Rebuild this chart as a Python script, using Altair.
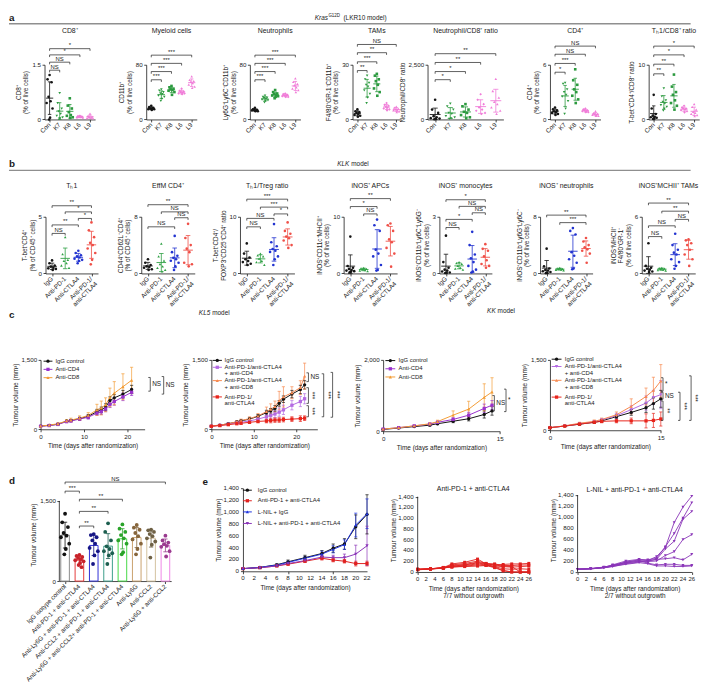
import altair as alt
import numpy as np
import pandas as pd

FONT = "Liberation Sans"
INK = "#1a1a1a"

# ============================ DATA ============================
# ---- a : Kras G12D (LKR10 model) ----
A_GROUPS = ["Con", "K7", "K8", "L6", "L9"]
A_COLORS = ["#151515", "#2c9a3f", "#2c9a3f", "#f07cd8", "#f07cd8"]
A_SHAPES = ["circle", "triangle-down", "square", "diamond", "triangle-up"]

A_CD8 = {"Con": [1.22, 1.1, 1.02, 0.62, 0.5, 0.45, 0.3, 0.05, 0.0],
         "K7": [0.72, 0.45, 0.3, 0.22, 0.15, 0.1, 0.06, 0.03, 0.02],
         "K8": [0.58, 0.38, 0.3, 0.2, 0.12, 0.1, 0.06, 0.04],
         "L6": [0.1, 0.09, 0.08, 0.07, 0.06, 0.05, 0.04],
         "L9": [0.16, 0.1, 0.08, 0.07, 0.05, 0.04, 0.03]}
A_MYELOID = {"Con": [20, 18, 17, 16, 16, 15, 15, 14],
             "K7": [44, 42, 40, 38, 37, 35, 33, 30, 27],
             "K8": [49, 47, 45, 44, 43, 42, 40, 36],
             "L6": [45, 42, 41, 40, 39, 38, 38, 37],
             "L9": [63, 58, 56, 55, 53, 51, 48, 46]}
A_NEUTRO = {"Con": [17, 15, 14, 14, 13, 13, 12, 12],
            "K7": [35, 33, 32, 31, 30, 29, 28, 27, 25],
            "K8": [43, 40, 38, 37, 36, 35, 34, 33, 31],
            "L6": [38, 37, 36, 35, 35, 34, 33, 33],
            "L9": [60, 55, 52, 50, 47, 45, 43, 40]}
A_TAM = {"Con": [5.5, 4.5, 4, 3.5, 3, 2.5, 2, 1.5],
         "K7": [24, 22, 20, 19, 18, 16, 14, 12, 9],
         "K8": [25, 24, 22, 21, 19, 17, 15, 13],
         "L6": [9, 8, 7.5, 7, 6.5, 6, 5.5, 5],
         "L9": [7, 6.5, 6, 5.5, 5, 5, 4.5, 4]}
A_RATIO = {"Con": [900, 450, 300, 150, 100, 60, 40, 20, 10],
           "K7": [720, 600, 450, 300, 250, 150, 100, 50, 30],
           "K8": [700, 600, 450, 350, 300, 200, 100, 50],
           "L6": [1150, 900, 700, 550, 450, 400, 300, 250],
           "L9": [1850, 1300, 1000, 800, 700, 550, 400, 250]}
A_CD4 = {"Con": [1.3, 1.1, 1.0, 0.9, 0.8, 0.7, 0.6, 0.5],
         "K7": [4.0, 3.9, 3.3, 3.0, 2.7, 2.5, 2.0, 1.2, 0.6],
         "K8": [5.5, 4.3, 3.8, 3.3, 3.0, 2.6, 2.2, 1.8],
         "L6": [1.2, 1.1, 1.0, 1.0, 0.9, 0.9, 0.8, 0.8],
         "L9": [0.9, 0.7, 0.6, 0.6, 0.5, 0.5, 0.4, 0.4]}
A_TH1CD8 = {"Con": [4.5, 2.0, 1.0, 0.7, 0.5, 0.4, 0.3, 0.2, 0.1],
            "K7": [5.7, 4.2, 3.5, 3.2, 2.9, 2.6, 2.3, 2.0, 1.6],
            "K8": [8.2, 6.0, 5.0, 4.5, 3.5, 3.0, 2.5, 1.8],
            "L6": [2.5, 2.2, 2.0, 2.0, 1.8, 1.7, 1.5, 1.3],
            "L9": [2.8, 2.3, 1.8, 1.4, 1.2, 1.0, 0.8, 0.6]}

A_SPECS = [
    dict(title="CD8⁺", ytitle=["CD8⁺", "(% of live cells)"], values=A_CD8, ymax=1.5,
         ticks=[0, 0.5, 1.0, 1.5], fmt="dec1",
         br=[(0, 1, "NS", 1.35), (0, 2, "NS", 1.57), (0, 3, "*", 1.77), (0, 4, "*", 1.94)]),
    dict(title="Myeloid cells", ytitle=["CD11b⁺", "(% of live cells)"], values=A_MYELOID, ymax=80,
         ticks=[0, 20, 40, 60, 80], fmt="int",
         br=[(0, 1, "***", 58), (0, 2, "***", 70), (0, 3, "***", 82), (0, 4, "***", 94)]),
    dict(title="Neutrophils", ytitle=["Ly6G⁺Ly6C⁻CD11b⁺", "(% of live cells)"], values=A_NEUTRO, ymax=80,
         ticks=[0, 20, 40, 60, 80], fmt="int",
         br=[(0, 1, "***", 58), (0, 2, "***", 70), (0, 3, "***", 82), (0, 4, "***", 94)]),
    dict(title="TAMs", ytitle=["F4/80⁺GR-1⁻CD11b⁺", "(% of live cells)"], values=A_TAM, ymax=30,
         ticks=[0, 10, 20, 30], fmt="int",
         br=[(0, 1, "**", 26.8), (0, 2, "***", 31.6), (0, 3, "**", 36.6), (0, 4, "NS", 41.1)]),
    dict(title="Neutrophil/CD8⁺ ratio", ytitle="Neutrophil/CD8⁺ ratio", values=A_RATIO, ymax=2500,
         ticks=[0, 500, 1000, 1500, 2000, 2500], fmt="int",
         br=[(0, 1, "*", 1817), (0, 2, "*", 2188), (0, 3, "**", 2603), (0, 4, "**", 3004)]),
    dict(title="CD4⁺", ytitle=["CD4⁺", "(% of live cells)"], values=A_CD4, ymax=6,
         ticks=[0, 2, 4, 6], fmt="int",
         br=[(0, 1, "*", 5.18), (0, 2, "***", 6.14), (0, 3, "NS", 7.15), (0, 4, "NS", 8.04)]),
    dict(title="Tₕ1/CD8⁺ ratio", ytitle="T-bet⁺CD4⁺/CD8⁺ ratio", values=A_TH1CD8, ymax=10,
         ticks=[0, 5, 10], fmt="int",
         br=[(0, 1, "**", 8.34), (0, 2, "**", 10.1), (0, 3, "*", 11.8), (0, 4, "*", 13.4)]),
]

# ---- b : KLK model ----
B_GROUPS = ["IgG", "Anti-PD-1", "Anti-CTLA4", "Anti-PD-1/|anti-CTLA4"]
B_COLORS = ["#151515", "#2ea043", "#2233d0", "#ef5048"]
B_SHAPES = ["circle", "triangle-up", "circle", "circle"]
B_KEYS = ["IgG", "PD1", "CTLA4", "Combo"]

B_TH1 = {"IgG": [1.15, 0.9, 0.7, 0.6, 0.5, 0.45, 0.4, 0.3],
         "PD1": [3.2, 1.7, 1.2, 1.1, 0.9, 0.7, 0.5],
         "CTLA4": [2.0, 1.8, 1.6, 1.5, 1.4, 1.3, 1.2, 1.1, 0.9],
         "Combo": [4.5, 3.8, 3.2, 2.7, 2.5, 2.2, 1.8, 1.2, 0.8]}
B_EFFM = {"IgG": [2.0, 1.5, 1.2, 1.0, 0.9, 0.8, 0.6, 0.5],
          "PD1": [4.2, 2.4, 1.8, 1.3, 1.0, 0.8, 0.5, 0.3],
          "CTLA4": [5.3, 3.0, 2.5, 2.2, 2.0, 1.8, 1.5, 1.0, 0.5],
          "Combo": [7.0, 5.0, 4.0, 3.5, 3.0, 1.5, 1.3, 1.0]}
B_TREG = {"IgG": [5.3, 3.5, 2.8, 2.5, 2.2, 2.0, 1.7, 1.5],
          "PD1": [3.5, 3.2, 3.0, 2.6, 2.2, 2.0, 1.5],
          "CTLA4": [8.7, 5.5, 4.8, 4.3, 4.0, 3.8, 3.0, 2.5, 1.5],
          "Combo": [9.0, 7.5, 7.0, 6.5, 6.2, 5.8, 5.0, 4.5]}
B_APC = {"IgG": [6.5, 1.3, 1.0, 0.8, 0.6, 0.5, 0.4, 0.3, 0.2],
         "PD1": [1.0, 0.9, 0.8, 0.7, 0.6, 0.5, 0.4],
         "CTLA4": [9.5, 8.5, 7.5, 4.2, 3.5, 3.0, 1.5, 0.6, 0.5],
         "Combo": [8.8, 8.5, 7.5, 6.0, 5.5, 4.5, 3.5, 1.2]}
B_MONO = {"IgG": [2.0, 0.6, 0.3, 0.2, 0.15, 0.1, 0.05, 0.05, 0.02],
          "PD1": [0.6, 0.55, 0.5, 0.4, 0.3, 0.25, 0.2],
          "CTLA4": [2.2, 1.5, 1.0, 0.8, 0.6, 0.4, 0.2, 0.1, 0.05],
          "Combo": [1.55, 1.3, 1.2, 0.9, 0.7, 0.5, 0.4, 0.3]}
B_NEUT = {"IgG": [3.5, 1.0, 0.7, 0.5, 0.4, 0.3, 0.2, 0.1, 0.05],
          "PD1": [0.8, 0.7, 0.65, 0.6, 0.55, 0.5, 0.45],
          "CTLA4": [6.4, 6.0, 5.5, 3.0, 2.5, 2.0, 1.5, 0.7, 0.6],
          "Combo": [5.0, 4.5, 4.0, 3.7, 3.4, 3.2, 2.8, 1.5]}
B_TAM = {"IgG": [3.2, 0.8, 0.6, 0.5, 0.4, 0.3, 0.2, 0.15],
         "PD1": [0.6, 0.55, 0.5, 0.45, 0.4, 0.35, 0.3],
         "CTLA4": [4.2, 3.0, 2.5, 2.2, 2.0, 1.5, 1.2, 0.8, 0.5],
         "Combo": [3.6, 3.5, 3.2, 3.0, 2.5, 2.0, 1.5, 0.8]}

B_SPECS = [
    dict(title="Tₕ1", ytitle=["T-bet⁺CD4⁺", "(% of CD45⁺ cells)"], values=B_TH1, ymax=5,
         ticks=[0, 1, 2, 3, 4, 5], fmt="int",
         br=[(0, 1, "NS", 3.53), (0, 2, "**", 4.28), (2, 3, "*", 4.85), (1, 3, "*", 5.43), (0, 3, "**", 5.97)]),
    dict(title="EffM CD4⁺", ytitle=["CD44⁺CD62L⁻CD4⁺", "(% of CD45⁺ cells)"], values=B_EFFM, ymax=8,
         ticks=[0, 2, 4, 6, 8], fmt="int",
         br=[(0, 2, "NS", 6.58), (2, 3, "NS", 7.86), (1, 3, "NS", 8.69), (0, 3, "**", 9.70)]),
    dict(title="Tₕ1/Treg ratio", ytitle=["T-bet⁺CD4⁺/", "FOXP3⁺CD25⁺CD4⁺ ratio"], values=B_TREG, ymax=10,
         ticks=[0, 2, 4, 6, 8, 10], fmt="int",
         br=[(0, 1, "NS", 8.22), (0, 2, "NS", 9.71), (2, 3, "*", 10.5), (1, 3, "***", 11.7), (0, 3, "***", 13.1)]),
    dict(title="iNOS⁺ APCs", ytitle=["iNOS⁺CD11c⁺MHCII⁺", "(% of live cells)"], values=B_APC, ymax=10,
         ticks=[0, 2, 4, 6, 8, 10], fmt="int",
         br=[(1, 2, "NS", 10.5), (0, 2, "*", 11.8), (0, 3, "**", 13.2)]),
    dict(title="iNOS⁺ monocytes", ytitle=["iNOS⁺CD11b⁺Ly6C⁺Ly6G⁻", "(% of live cells)"], values=B_MONO, ymax=3,
         ticks=[0, 1, 2, 3], fmt="int",
         br=[(0, 1, "NS", 2.43), (0, 2, "*", 2.86), (2, 3, "NS", 3.21), (1, 3, "NS", 3.55), (0, 3, "*", 3.90)]),
    dict(title="iNOS⁺ neutrophils", ytitle=["iNOS⁺CD11b⁺Ly6G⁺Ly6C⁻", "(% of live cells)"], values=B_NEUT, ymax=8,
         ticks=[0, 2, 4, 6, 8], fmt="int",
         br=[(1, 3, "***", 7.17), (0, 3, "**", 8.23)]),
    dict(title="iNOS⁺MCHII⁺ TAMs", ytitle=["iNOS⁺MHCII⁺", "F4/80⁺GR-1⁻", "(% of live cells)"], values=B_TAM, ymax=6,
         ticks=[0, 2, 4, 6], fmt="int",
         br=[(0, 1, "NS", 3.90), (0, 2, "NS", 5.04), (2, 3, "NS", 5.72), (1, 3, "**", 6.59), (0, 3, "**", 7.45)]),
]

# ---- c : tumour growth, KL5 and KK models ----
C_DAYS_1 = [0, 2, 4, 6, 7, 9, 11, 13, 14, 15, 16, 17, 19, 21]
C1_IGG = [70, 85, 110, 175, 190, 230, 280, 380, 420, 480, 620, 680, 760, 860]
C1_IGG_E = [10, 10, 15, 20, 20, 30, 40, 50, 60, 70, 80, 70, 80, 90]
C1_CD4 = [65, 80, 105, 165, 180, 220, 260, 350, 380, 440, 540, 600, 700, 800]
C1_CD4_E = [10, 10, 15, 20, 20, 30, 40, 50, 60, 60, 70, 80, 80, 70]
C1_CD8 = [70, 90, 120, 180, 200, 240, 300, 420, 460, 530, 690, 780, 920, 1060]
C1_CD8_E = [10, 15, 20, 30, 40, 50, 60, 120, 150, 150, 200, 250, 280, 280]

C_DAYS_2 = [0, 2, 4, 6, 7, 9, 11, 13, 14, 15, 16, 17, 19, 21, 22]
C2_IGG = [70, 90, 120, 160, 180, 220, 280, 360, 400, 450, 560, 650, 760, 860, 960]
C2_IGG_E = [10, 10, 15, 20, 20, 30, 40, 50, 50, 60, 60, 70, 80, 90, 90]
C2_CD4C = [65, 85, 110, 140, 150, 180, 220, 270, 300, 330, 370, 420, 520, 600, 660]
C2_CD4C_E = [10, 10, 15, 20, 20, 30, 40, 60, 80, 80, 90, 100, 100, 110, 110]
C2_CD8C = [70, 90, 120, 165, 190, 230, 290, 380, 430, 490, 620, 700, 790, 900, 1150]
C2_CD8C_E = [10, 10, 15, 20, 30, 40, 50, 100, 120, 120, 200, 220, 130, 150, 280]
C2_COMBO = [65, 80, 100, 120, 130, 150, 170, 180, 190, 200, 200, 210, 220, 230, 240]
C2_COMBO_E = [10, 10, 15, 15, 20, 20, 30, 40, 50, 50, 50, 50, 50, 60, 50]

C_DAYS_3 = [0, 2, 4, 6, 7, 9, 11, 13, 14]
C3_IGG = [50, 90, 130, 170, 210, 280, 350, 470, 570]
C3_IGG_E = [10, 10, 15, 20, 25, 40, 60, 100, 120]
C3_CD4 = [60, 100, 150, 200, 250, 330, 450, 640, 730]
C3_CD4_E = [10, 10, 15, 20, 30, 50, 80, 120, 130]
C3_CD8 = [60, 100, 150, 210, 270, 450, 620, 950, 1100]
C3_CD8_E = [10, 15, 20, 30, 40, 120, 220, 380, 400]

C_DAYS_4 = [0, 2, 4, 6, 7, 9, 11, 13, 14, 15]
C4_IGG = [55, 90, 130, 170, 200, 290, 380, 480, 570, 670]
C4_IGG_E = [10, 10, 15, 20, 25, 40, 60, 100, 120, 180]
C4_CD4C = [55, 90, 140, 180, 220, 310, 440, 580, 700, 760]
C4_CD4C_E = [10, 10, 15, 20, 30, 50, 80, 150, 150, 300]
C4_CD8C = [55, 95, 150, 190, 230, 330, 510, 720, 850, 1050]
C4_CD8C_E = [10, 15, 20, 30, 30, 60, 160, 180, 280, 350]
C4_COMBO = [55, 90, 130, 170, 190, 200, 200, 200, 210, 240]
C4_COMBO_E = [5, 10, 15, 20, 30, 40, 60, 150, 150, 150]

C_BLACK, C_CD4, C_CD8 = "#111111", "#9a32cd", "#f39c35"
C_CD4C, C_CD8C, C_COMBO = "#b36ae2", "#f7894f", "#e8251c"

# (x position in days, from value, to value, label, rotated)
C1_BR = [(25.3, 1120, 824, "NS", False), (28.4, 1140, 760, "NS", False)]
C2_BR = [(22.9, 1220, 1030, "NS", False), (22.9, 900, 560, "***", True), (22.9, 510, 270, "***", True),
         (26.5, 1200, 270, "***", True), (28.6, 1230, 260, "***", True)]
C3_BR = [(14.3, 1000, 565, "NS", False), (15.8, 1180, 550, "*", False)]
C4_BR = [(15.3, 1120, 830, "*", False), (15.3, 810, 660, "NS", False), (15.3, 625, 210, "**", True),
         (17.6, 810, 210, "***", True), (19.1, 1160, 210, "***", True)]

# ---- d : tumour volume with depletion ----
D_LABELS = ["IgG isotype control", "Anti-PD-1 + anti-CTLA4", "Anti-Ly6G + anti-PD-1 + anti-CTLA4",
            "Anti-CCL2 + anti-PD-1 + anti-CTLA4", "Anti-Ly6G + anti-CCL2+ anti-PD-1 + anti-CTLA4",
            "Anti-Ly6G", "Anti-CCL2", "Anti-Ly6G + anti-CCL2"]
D_BAR_COLORS = ["#8a8a8a", "#e53a3a", "#2f2fd6", "#3c9c8a", "#45d845", "#c9a26e", "#d3c2a0", "#ee86e6"]
D_PT_COLORS = ["#111111", "#c8232a", "#161685", "#1c5e4f", "#2aa32a", "#86653b", "#6f6145", "#9a3b8f"]
D_VALUES = [[1260, 1100, 1010, 900, 850, 820, 700, 600, 500],
            [490, 470, 450, 430, 410, 390, 370, 340, 300, 260],
            [880, 860, 820, 760, 700, 620, 560, 480, 320],
            [1080, 920, 760, 650, 600, 560, 520, 480, 320],
            [1060, 980, 920, 860, 800, 760, 700, 540, 500],
            [1050, 1000, 960, 900, 840, 780, 700, 600, 500],
            [960, 950, 920, 880, 840, 800, 740, 680, 440],
            [850, 760, 720, 690, 660, 640, 560, 460]]
D_BR = [(0, 1, "***", 1683), (1, 2, "**", 1030), (1, 3, "**", 1304), (1, 4, "**", 1531), (0, 7, "NS", 1853)]

# ---- e : L-NIL ----
E_DAYS = [0, 3, 6, 8, 11, 14, 16, 18, 20, 22]
E1_IGG = [45, 65, 110, 160, 230, 300, 390, 460, 750, 960]
E1_IGG_E = [5, 10, 15, 30, 40, 50, 70, 90, 200, 330]
E1_COMBO = [45, 60, 90, 120, 170, 220, 190, 170, 130, 130]
E1_COMBO_E = [5, 8, 10, 15, 20, 30, 30, 30, 40, 40]
E1_LNIL = [45, 65, 105, 150, 220, 290, 370, 450, 780, 970]
E1_LNIL_E = [5, 10, 15, 20, 30, 50, 60, 80, 200, 250]
E1_LNILC = [45, 60, 90, 130, 180, 240, 230, 230, 290, 430]
E1_LNILC_E = [5, 8, 10, 15, 20, 30, 40, 60, 150, 330]

E_MOUSE_DAYS = [0, 3, 6, 8, 11, 14, 16, 18, 20, 22, 24, 26]
E2_MICE = [[50, 60, 80, 150, 180, 240, 150, 130, 140, 150, 150, 160],
           [45, 55, 75, 130, 160, 200, 160, 150, 120, 120, 130, 130],
           [50, 60, 70, 110, 130, 170, 140, 100, 60, 50, 60, 50],
           [40, 55, 70, 100, 120, 150, 130, 90, 30, 0, 0, 0],
           [50, 58, 85, 90, 110, 130, 120, 110, 100, 90, 100, 110],
           [45, 55, 80, 120, 140, 180, 150, 130, 110, 100, 0, 0],
           [48, 60, 75, 95, 100, 110, 120, 80, 20, 0, 0, 0]]
E3_MICE = [[50, 60, 90, 120, 180, 220, 210, 280, 450, 900, 1180, 1380],
           [50, 60, 85, 130, 200, 230, 220, 250, 460, 700, 980, 1260],
           [50, 60, 80, 110, 160, 200, 200, 230, 420, 560, 960, 1100],
           [50, 60, 80, 100, 150, 180, 190, 200, 300, 370, 590, 680],
           [50, 60, 85, 120, 170, 190, 200, 230, 240, 260, 220, 320],
           [50, 55, 80, 110, 180, 210, 160, 130, 140, 140, 120, 120],
           [50, 58, 75, 100, 140, 170, 150, 110, 110, 100, 100, 110]]
E_RED, E_BLUE, E_PURPLE = "#e0211f", "#1f35e0", "#8a35b8"

# ============================ LAYOUT ============================
# panel placement, mapped onto the page
RX0, SX = 3.0, 0.985
RY0, SY = 1.0, 0.99


def px(x):
    return (x - RX0) * SX


def py(y):
    return (y - RY0) * SY


A_POS = [(39, 52), (142, 52), (247, 52), (351, 50), (427, 78), (552, 52), (652, 52)]
B_POS = [(40.5, 54), (138, 55), (238, 56), (343, 55), (440, 54), (542.5, 54), (646, 55)]
C_POS = [(35, 107), (209.3, 109), (384.3, 120), (555, 114)]
C_H = [71, 71, 73, 72]
DE_POS = [(54, 115), (241.7, 127.6), (420.7, 114.3), (584.3, 117.4)]
ROW_TOPS = [54, 209, 350, 482]
ROW_BOUNDS = [1, 140, 298, 446, 689]
YT = [int(round(py(t))) for t in ROW_TOPS]
ZB = [int(round(py(b))) for b in ROW_BOUNDS]
EXT = [(YT[i] - ZB[i], ZB[i + 1] - YT[i]) for i in range(4)]

ZDF = pd.DataFrame({"z": [0]})
JIT = [0.0, -0.2, 0.2, -0.1, 0.1, -0.29, 0.29, 0.05, -0.05, 0.15]
AXC = dict(labelOverlap=False, labelBound=False, labelFlush=False)
LAB_FS = 6.4


def fmt_expr(kind):
    if kind == "dec1":
        return "datum.value == 0 ? '0' : format(datum.value, '.1f')"
    return "format(datum.value, ',')"


def txt(s, x, y, size=6.5, weight="normal", style="normal", align="left", baseline="middle", angle=0):
    return alt.Chart(ZDF).mark_text(fontSize=size, fontWeight=weight, fontStyle=style, align=align,
                                    baseline=baseline, color=INK, angle=angle).encode(
        x=alt.value(x), y=alt.value(y), text=alt.value(s))


def hline(x0, x1, y, color, width):
    return alt.Chart(ZDF).mark_rule(color=color, strokeWidth=width).encode(
        x=alt.value(x0), x2=alt.value(x1), y=alt.value(y))


def gap(w):
    return alt.Chart(ZDF).mark_point(opacity=0).encode(x=alt.value(0), y=alt.value(0)).properties(width=w, height=1)


def lead(w, ext, items):
    T, B = ext
    rule = alt.Chart(ZDF).mark_rule(color="white", opacity=0, strokeWidth=1).encode(
        x=alt.value(0), y=alt.value(-T), y2=alt.value(B))
    return alt.layer(rule, *items).properties(width=w, height=1)


def rot_labels(labels, h, fs=LAB_FS):
    df = pd.DataFrame({"x": list(range(len(labels))), "t": [s.split("|") for s in labels]})
    return alt.Chart(df).mark_text(angle=315, align="right", baseline="middle", fontSize=fs,
                                   lineHeight=7, color=INK).encode(
        x="x:Q", y=alt.value(h + 4.5), text="t:N")


def num_labels(ticks, h, fs):
    df = pd.DataFrame({"d": ticks, "t": [str(t) for t in ticks]})
    return alt.Chart(df).mark_text(align="center", baseline="top", fontSize=fs, color=INK).encode(
        x="d:Q", y=alt.value(h + 4), text="t:N")


def y_labels(ticks, fs=6.3):
    df = pd.DataFrame({"v": ticks, "t": [f"{t:,}" for t in ticks]})
    return alt.Chart(df).mark_text(align="right", baseline="middle", fontSize=fs, color=INK).encode(
        x=alt.value(-4), y="v:Q", text="t:N")


def hbrackets(brs, ymax, h):
    tk = 2.2 * ymax / h
    df = pd.DataFrame([{"xa": i, "xb": j, "xm": (i + j) / 2, "y": lev, "y2": lev - tk, "t": lab}
                       for i, j, lab, lev in brs])
    b = alt.Chart(df)
    return [b.mark_rule(color=INK, strokeWidth=0.7).encode(x="xa:Q", x2="xb:Q", y="y:Q"),
            b.mark_rule(color=INK, strokeWidth=0.7).encode(x="xa:Q", y="y:Q", y2="y2:Q"),
            b.mark_rule(color=INK, strokeWidth=0.7).encode(x="xb:Q", y="y:Q", y2="y2:Q"),
            b.mark_text(fontSize=6, baseline="bottom", dy=-0.5, color=INK).encode(x="xm:Q", y="y:Q", text="t:N")]


def scatter_panel(spec, groups, keys, colors, shapes, w, h, title_y, size=7):
    n = len(groups)
    ymax = spec["ymax"]
    pts, st, cp = [], [], []
    for gi, key in enumerate(keys):
        vals = spec["values"][key]
        for k, v in enumerate(sorted(vals, reverse=True)):
            pts.append({"x": gi + JIT[k % len(JIT)], "y": v, "c": colors[gi], "s": shapes[gi]})
        arr = np.asarray(vals, dtype=float)
        m, sd = float(arr.mean()), float(arr.std(ddof=1))
        lo, hi = max(m - sd, 0.0), m + sd
        st.append({"x": gi, "y": lo, "y2": hi, "m": m, "xa": gi - 0.36, "xb": gi + 0.36, "c": colors[gi]})
        for yy in (lo, hi):
            cp.append({"xa": gi - 0.17, "xb": gi + 0.17, "y": yy, "c": colors[gi]})
    X = alt.X("x:Q", scale=alt.Scale(domain=[-0.5, n - 0.5], nice=False, zero=False),
              axis=alt.Axis(values=list(range(n)), labels=False, title=None, **AXC))
    Y = alt.Y("y:Q", scale=alt.Scale(domain=[0, ymax], nice=False, zero=False),
              axis=alt.Axis(values=spec["ticks"], labelExpr=fmt_expr(spec["fmt"]), title=spec["ytitle"], **AXC))
    C = alt.Color("c:N", scale=None)
    sdf, cdf = pd.DataFrame(st), pd.DataFrame(cp)
    layers = [
        alt.Chart(pd.DataFrame(pts)).mark_point(filled=True, size=size, opacity=1).encode(
            x=X, y=Y, color=C, shape=alt.Shape("s:N", scale=None)),
        alt.Chart(sdf).mark_rule(strokeWidth=0.8).encode(x="x:Q", y="y:Q", y2="y2:Q", color=C),
        alt.Chart(sdf).mark_rule(strokeWidth=0.9).encode(x="xa:Q", x2="xb:Q", y="m:Q", color=C),
        alt.Chart(cdf).mark_rule(strokeWidth=0.8).encode(x="xa:Q", x2="xb:Q", y="y:Q", color=C),
        rot_labels(groups, h),
    ]
    layers += hbrackets(spec["br"], ymax, h)
    layers.append(txt(spec["title"], w / 2, title_y, size=7, align="center"))
    return alt.layer(*layers).properties(width=w, height=h)


def legend_layers(entries, x0, x1, tx, ys, fs=6, psize=11):
    out = []
    for (label, col, shp), y in zip(entries, ys):
        lines = label.split("\n")
        out.append(alt.Chart(ZDF).mark_rule(color=col, strokeWidth=1).encode(
            x=alt.value(x0), x2=alt.value(x1), y=alt.value(y)))
        out.append(alt.Chart(ZDF).mark_point(filled=True, color=col, shape=shp, size=psize, opacity=1).encode(
            x=alt.value((x0 + x1) / 2), y=alt.value(y)))
        out.append(alt.Chart(ZDF).mark_text(align="left", baseline="top", fontSize=fs, lineHeight=fs + 0.6,
                                            color=INK).encode(
            x=alt.value(tx), y=alt.value(y - fs * 0.55), text=alt.value(lines if len(lines) > 1 else lines[0])))
    return out


def line_panel(series, w, h, xdom, xticks, ymax, yticks, ytitle, xtitle, legend=None, vbr=None,
               axis_top=None, title=None, title_y=0, psize=11, lw=1.0, manual=False, xlabel_size=6.3):
    rows = []
    for s in series:
        for i, d in enumerate(s["days"]):
            v = s["v"][i]
            e = s["e"][i] if s.get("e") else 0
            rows.append(dict(d=d, v=v, lo=max(v - e, 0), hi=v + e, c=s["color"], s=s["shape"], k=s["name"]))
    df = pd.DataFrame(rows)
    xs = alt.Scale(domain=[0, xdom], nice=False, zero=False)
    ys = alt.Scale(domain=[0, ymax], nice=False, zero=False)
    if manual:
        ax_y = alt.Axis(values=yticks, labels=False, title=ytitle, titlePadding=18.5,
                        domain=axis_top is None, **AXC)
        ax_x = alt.Axis(values=xticks, title=xtitle, labels=False, titlePadding=3 + xlabel_size + 1.5, **AXC)
    else:
        ax_y = alt.Axis(values=yticks, labelExpr="format(datum.value, ',')", title=ytitle,
                        domain=axis_top is None, **AXC)
        ax_x = alt.Axis(values=xticks, title=xtitle, format="d", labelFontSize=xlabel_size, **AXC)
    C = alt.Color("c:N", scale=None)
    layers = [alt.Chart(df).mark_line(strokeWidth=lw).encode(
        x=alt.X("d:Q", scale=xs, axis=ax_x), y=alt.Y("v:Q", scale=ys, axis=ax_y), color=C, detail="k:N")]
    if any(s.get("e") for s in series):
        capd = 1.6 * xdom / w
        df2 = df.assign(da=df.d - capd, db=df.d + capd)
        b2 = alt.Chart(df2)
        layers += [b2.mark_rule(strokeWidth=0.7).encode(x="d:Q", y="lo:Q", y2="hi:Q", color=C),
                   b2.mark_rule(strokeWidth=0.7).encode(x="da:Q", x2="db:Q", y="hi:Q", color=C),
                   b2.mark_rule(strokeWidth=0.7).encode(x="da:Q", x2="db:Q", y="lo:Q", color=C)]
    layers.append(alt.Chart(df).mark_point(filled=True, size=psize, opacity=1).encode(
        x="d:Q", y="v:Q", color=C, shape=alt.Shape("s:N", scale=None)))
    if manual:
        layers.append(num_labels(xticks, h, xlabel_size))
        layers.append(y_labels(yticks))
    if axis_top is not None:
        layers.append(alt.Chart(ZDF).mark_rule(color=INK, strokeWidth=0.8).encode(
            x=alt.value(0), y=alt.datum(0), y2=alt.datum(axis_top)))
    if vbr:
        tk = 2.0 * xdom / w
        bdf = pd.DataFrame([dict(x=x, xa=x - tk, ya=a, yb=b, ym=(a + b) / 2, t=t, r=r) for x, a, b, t, r in vbr])
        bb = alt.Chart(bdf)
        layers += [bb.mark_rule(color=INK, strokeWidth=0.7).encode(x="x:Q", y="ya:Q", y2="yb:Q"),
                   bb.mark_rule(color=INK, strokeWidth=0.7).encode(x="xa:Q", x2="x:Q", y="ya:Q"),
                   bb.mark_rule(color=INK, strokeWidth=0.7).encode(x="xa:Q", x2="x:Q", y="yb:Q")]
        rot, flat = bdf[bdf.r], bdf[~bdf.r]
        if len(rot):
            layers.append(alt.Chart(rot).mark_text(angle=90, baseline="bottom", align="center", fontSize=6.5,
                                                   dy=-1, color=INK).encode(x="x:Q", y="ym:Q", text="t:N"))
        if len(flat):
            layers.append(alt.Chart(flat).mark_text(align="left", baseline="middle", fontSize=6.5, dx=2,
                                                    color=INK).encode(x="x:Q", y="ym:Q", text="t:N"))
    if legend:
        layers += legend_layers(**legend)
    if title:
        layers.append(txt(title, w / 2, title_y, size=7, align="center"))
    return alt.layer(*layers).properties(width=w, height=h)


def bar_panel(w, h, ymax, axis_top):
    n = len(D_LABELS)
    bars, pts, st, cp = [], [], [], []
    for gi, vals in enumerate(D_VALUES):
        arr = np.asarray(vals, dtype=float)
        m, sd = float(arr.mean()), float(arr.std(ddof=1))
        bars.append({"xa": gi - 0.3, "xb": gi + 0.3, "y": 0, "y2": m, "c": D_BAR_COLORS[gi]})
        for k, v in enumerate(sorted(vals, reverse=True)):
            pts.append({"x": gi + JIT[k % len(JIT)], "y": v, "c": D_PT_COLORS[gi]})
        st.append({"x": gi, "y": m - sd, "y2": m + sd, "c": D_PT_COLORS[gi]})
        for yy in (m - sd, m + sd):
            cp.append({"xa": gi - 0.15, "xb": gi + 0.15, "y": yy, "c": D_PT_COLORS[gi]})
    X = alt.X("xa:Q", scale=alt.Scale(domain=[-0.4, n - 0.6], nice=False, zero=False),
              axis=alt.Axis(values=list(range(n)), labels=False, title=None, **AXC))
    Y = alt.Y("y:Q", scale=alt.Scale(domain=[0, ymax], nice=False, zero=False),
              axis=alt.Axis(values=[0, 500, 1000, 1500], labelExpr="format(datum.value, ',')",
                            title="Tumour volume (mm³)", domain=False, **AXC))
    C = alt.Color("c:N", scale=None)
    layers = [
        alt.Chart(pd.DataFrame(bars)).mark_rect(fill="white", strokeWidth=1).encode(
            x=X, x2="xb:Q", y=Y, y2="y2:Q", stroke=alt.Stroke("c:N", scale=None)),
        alt.Chart(pd.DataFrame(pts)).mark_point(filled=True, size=15, opacity=1).encode(x="x:Q", y="y:Q", color=C),
        alt.Chart(pd.DataFrame(st)).mark_rule(strokeWidth=0.8).encode(x="x:Q", y="y:Q", y2="y2:Q", color=C),
        alt.Chart(pd.DataFrame(cp)).mark_rule(strokeWidth=0.8).encode(x="xa:Q", x2="xb:Q", y="y:Q", color=C),
        alt.Chart(ZDF).mark_rule(color=INK, strokeWidth=0.8).encode(x=alt.value(0), y=alt.datum(0),
                                                                    y2=alt.datum(axis_top)),
        rot_labels(D_LABELS, h, fs=6.4),
    ]
    layers += hbrackets(D_BR, ymax, h)
    return alt.layer(*layers).properties(width=w, height=h)


def assemble(lead_chart, charts_with_pos):
    items = [lead_chart]
    prev = None
    for (left, width), ch in charts_with_pos:
        if prev is not None and left - prev > 0.01:
            items.append(gap(left - prev))
        items.append(ch)
        prev = left + width
    return alt.hconcat(*items, spacing=0, bounds="flush")


def place(pos):
    return [(px(l), w * SX) for l, w in pos]


# ---------------- row a ----------------
a_pos = place(A_POS)
HA = 56 * SY
a_charts = [scatter_panel(s, A_GROUPS, A_GROUPS, A_COLORS, A_SHAPES, w, HA, -34 * SY)
            for s, (l, w) in zip(A_SPECS, a_pos)]
a_lead = lead(a_pos[0][0], EXT[0], [
    txt("a", 0, -44.5, size=10, weight="bold", baseline="alphabetic"),
    hline(0, px(704), -41.5, "#8f8f8f", 1.3),
    txt("Kras", px(331), -47, style="italic", align="right"),
    txt("G12D", px(331.5), -49.5, size=4.5),
    txt("(LKR10 model)", px(347), -47),
])
row_a = assemble(a_lead, list(zip(a_pos, a_charts)))

# ---------------- row b ----------------
b_pos = place(B_POS)
HB = 58 * SY
b_charts = [scatter_panel(s, B_GROUPS, B_KEYS, B_COLORS, B_SHAPES, w, HB, -31 * SY)
            for s, (l, w) in zip(B_SPECS, b_pos)]
b_lead = lead(b_pos[0][0], EXT[1], [
    txt("b", 0, -50.5, size=10, weight="bold", baseline="alphabetic"),
    hline(0, px(704), -47, "#8f8f8f", 1.3),
    txt("KLK", px(353), -53.5, style="italic", align="right"),
    txt("model", px(355), -53.5),
])
row_b = assemble(b_lead, list(zip(b_pos, b_charts)))

# ---------------- row c ----------------
TV = "Tumour volume (mm³)"
TX = "Time (days after randomization)"
c_pos = place(C_POS)
c1 = line_panel([
    dict(name="IgG", days=C_DAYS_1, v=C1_IGG, e=C1_IGG_E, color=C_BLACK, shape="circle"),
    dict(name="CD4", days=C_DAYS_1, v=C1_CD4, e=C1_CD4_E, color=C_CD4, shape="square"),
    dict(name="CD8", days=C_DAYS_1, v=C1_CD8, e=C1_CD8_E, color=C_CD8, shape="triangle-up")],
    c_pos[0][1], C_H[0] * SY, 24, [0, 5, 10, 15, 20], 1500, [0, 500, 1000, 1500], TV, TX, vbr=C1_BR,
    legend=dict(entries=[("IgG control", C_BLACK, "circle"), ("Anti-CD4", C_CD4, "square"),
                         ("Anti-CD8", C_CD8, "triangle-up")], x0=3, x1=12, tx=15, ys=[1.3, 9.6, 18]))
c2 = line_panel([
    dict(name="IgG", days=C_DAYS_2, v=C2_IGG, e=C2_IGG_E, color=C_BLACK, shape="circle"),
    dict(name="CD4C", days=C_DAYS_2, v=C2_CD4C, e=C2_CD4C_E, color=C_CD4C, shape="square"),
    dict(name="CD8C", days=C_DAYS_2, v=C2_CD8C, e=C2_CD8C_E, color=C_CD8C, shape="triangle-up"),
    dict(name="COMBO", days=C_DAYS_2, v=C2_COMBO, e=C2_COMBO_E, color=C_COMBO, shape="square")],
    c_pos[1][1], C_H[1] * SY, 25, [0, 5, 10, 15, 20, 25], 1500, [0, 500, 1000, 1500], TV, TX, vbr=C2_BR,
    legend=dict(entries=[("IgG control", C_BLACK, "circle"),
                         ("Anti-PD-1/anti-CTLA4\n+ anti-CD4", C_CD4C, "square"),
                         ("Anti-PD-1/anti-CTLA4\n+ anti-CD8", C_CD8C, "triangle-up"),
                         ("Anti-PD-1/\nanti-CTLA4", C_COMBO, "square")],
                x0=1.3, x1=10.7, tx=13.4, ys=[0.5, 7.5, 21, 37.5]))
c3 = line_panel([
    dict(name="IgG", days=C_DAYS_3, v=C3_IGG, e=C3_IGG_E, color=C_BLACK, shape="circle"),
    dict(name="CD4", days=C_DAYS_3, v=C3_CD4, e=C3_CD4_E, color=C_CD4, shape="square"),
    dict(name="CD8", days=C_DAYS_3, v=C3_CD8, e=C3_CD8_E, color=C_CD8, shape="triangle-up")],
    c_pos[2][1], C_H[2] * SY, 15, [0, 5, 10, 15], 2000, [0, 500, 1000, 1500, 2000], TV, TX, vbr=C3_BR,
    legend=dict(entries=[("IgG control", C_BLACK, "circle"), ("Anti-CD4", C_CD4, "square"),
                         ("Anti-CD8", C_CD8, "triangle-up")], x0=2.3, x1=12.3, tx=15.7, ys=[0.7, 9, 17.3]))
c4 = line_panel([
    dict(name="IgG", days=C_DAYS_4, v=C4_IGG, e=C4_IGG_E, color=C_BLACK, shape="circle"),
    dict(name="CD4C", days=C_DAYS_4, v=C4_CD4C, e=C4_CD4C_E, color=C_CD4C, shape="triangle-down"),
    dict(name="CD8C", days=C_DAYS_4, v=C4_CD8C, e=C4_CD8C_E, color=C_CD8C, shape="triangle-up"),
    dict(name="COMBO", days=C_DAYS_4, v=C4_COMBO, e=C4_COMBO_E, color=C_COMBO, shape="square")],
    c_pos[3][1], C_H[3] * SY, 15, [0, 5, 10, 15], 1500, [0, 500, 1000, 1500], TV, TX, vbr=C4_BR,
    legend=dict(entries=[("IgG control", C_BLACK, "circle"),
                         ("Anti-PD-1/anti-CTLA4\n+ anti-CD4", C_CD4C, "triangle-down"),
                         ("Anti-PD-1/anti-CTLA4\n+ anti-CD8", C_CD8C, "triangle-up"),
                         ("Anti-PD-1/\nanti-CTLA4", C_COMBO, "square")],
                x0=1.7, x1=11.7, tx=15, ys=[-0.7, 6.7, 20.7, 37.7]))
c_lead = lead(c_pos[0][0], EXT[2], [
    txt("c", 0, -42.5, size=10, weight="bold", baseline="alphabetic"),
    txt("KL5", px(210), -47.5, style="italic", align="right"),
    txt("model", px(212), -47.5),
    txt("KK", px(503.5), -49, style="italic", align="right"),
    txt("model", px(505.5), -49),
])
row_c = assemble(c_lead, list(zip(c_pos, [c1, c2, c3, c4])))

# ---------------- row d / e ----------------
de_pos = place(DE_POS)
HD, HE1, HE = 95 * SY, 85 * SY, 85.7 * SY
d_chart = bar_panel(de_pos[0][1], HD, 1500 * 95 / 82, 1500)
e1 = line_panel([
    dict(name="IgG", days=E_DAYS, v=E1_IGG, e=E1_IGG_E, color=C_BLACK, shape="circle"),
    dict(name="COMBO", days=E_DAYS, v=E1_COMBO, e=E1_COMBO_E, color=E_RED, shape="square"),
    dict(name="LNIL", days=E_DAYS, v=E1_LNIL, e=E1_LNIL_E, color=E_BLUE, shape="triangle-up"),
    dict(name="LNILC", days=E_DAYS, v=E1_LNILC, e=E1_LNILC_E, color=E_PURPLE, shape="triangle-down")],
    de_pos[1][1], HE1, 22, list(range(0, 23, 2)), 1400, list(range(0, 1401, 200)), TV, TX, manual=True,
    legend=dict(entries=[("IgG control", C_BLACK, "circle"), ("Anti-PD-1 + anti-CTLA4", E_RED, "square"),
                         ("L-NIL + IgG", E_BLUE, "triangle-up"),
                         ("L-NIL + anti-PD-1 + anti-CTLA4", E_PURPLE, "triangle-down")],
                x0=0, x1=9, tx=15, ys=[2, 12.7, 24, 35.7]))
e2 = line_panel([dict(name="m%d" % i, days=E_MOUSE_DAYS, v=m, color=E_RED, shape="square")
                 for i, m in enumerate(E2_MICE)],
                de_pos[2][1], HE, 26, list(range(0, 27, 2)), 1400 * 85.7 / 77, list(range(0, 1401, 200)), TV,
                [TX, "7/7 without outgrowth"], axis_top=1400, title="Anti-PD-1 + anti-CTLA4", title_y=1,
                psize=9, lw=0.9, manual=True, xlabel_size=6)
e3 = line_panel([dict(name="m%d" % i, days=E_MOUSE_DAYS, v=m, color=E_PURPLE, shape="triangle-down")
                 for i, m in enumerate(E3_MICE)],
                de_pos[3][1], HE, 26, list(range(0, 27, 2)), 1400 * 85.7 / 78.7, list(range(0, 1401, 200)), TV,
                [TX, "2/7 without outgrowth"], axis_top=1400, title="L-NIL + anti-PD-1 + anti-CTLA4",
                title_y=2, psize=9, lw=0.9, manual=True, xlabel_size=6)
de_lead = lead(de_pos[0][0], EXT[3], [
    txt("d", 0, -4, size=10, weight="bold", baseline="alphabetic"),
    txt("e", px(202), -3, size=10, weight="bold", baseline="alphabetic"),
])
row_de = assemble(de_lead, list(zip(de_pos, [d_chart, e1, e2, e3])))

chart = alt.vconcat(row_a, row_b, row_c, row_de, spacing=0,
                    padding={"left": 0, "top": 0, "right": 0, "bottom": 0}).configure_view(
    stroke=None
).configure_axis(
    labelFont=FONT, titleFont=FONT, labelFontSize=6.3, titleFontSize=6.5, titleFontWeight="normal",
    labelColor=INK, titleColor=INK, domainColor=INK, tickColor=INK, domainWidth=0.8, tickWidth=0.8,
    tickSize=2.5, labelPadding=1.5, titlePadding=3, grid=False, labelOverlap=False, labelFlush=False,
    labelBound=False, labelLineHeight=7, titleLineHeight=7.5
).configure_text(font=FONT)

chart.save("out.html", embed_options={"renderer": "svg", "actions": False})
